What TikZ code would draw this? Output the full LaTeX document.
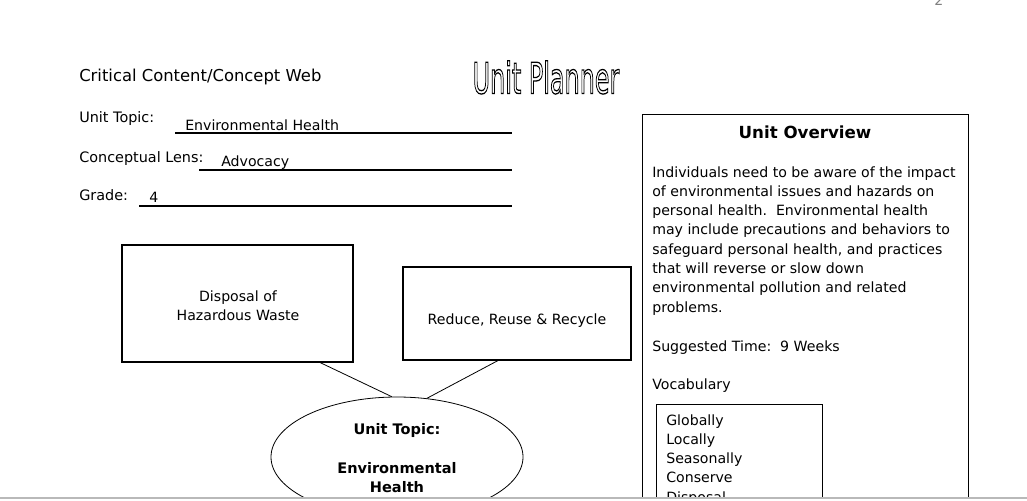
\documentclass[tikz,border=0pt]{standalone}
\usepackage{fontspec}
\setmainfont{DejaVu Sans}
\usetikzlibrary{shapes.geometric}
\begin{document}
\begin{tikzpicture}[x=0.75pt,y=-0.75pt,
  txt/.style={inner sep=0pt,font=\fontsize{10.6}{14.5}\selectfont},
  lbl/.style={inner sep=0pt,font=\fontsize{10.8}{14.5}\selectfont},
  bigtxt/.style={inner sep=0pt,font=\fontsize{12.3}{14.5}\selectfont},
  boldtxt/.style={inner sep=0pt,font=\fontsize{10.9}{14.5}\selectfont\bfseries},
  headbold/.style={inner sep=0pt,font=\fontsize{12.5}{14.5}\selectfont\bfseries},
  box/.style={draw,line width=0.8pt,rectangle,inner sep=0pt},
  fieldline/.style={line width=0.8pt},
  link/.style={line width=0.6pt}]
\useasboundingbox (0,0) rectangle (1027,500);
\begin{scope}
\clip (0,0) rectangle (1027,497);
% page number
\node[txt,anchor=base west,text=gray] (pg) at (934,5) {2};
% header
\node[bigtxt,anchor=base west] (cw) at (79,81) {Critical Content/Concept Web};
\node[anchor=base,inner sep=0pt] (up) at (546,93.5)
  {\resizebox{110pt}{24.5pt}{\special{pdf:literal direct 1 Tr 0.3 w}Unit Planner\special{pdf:literal direct 0 Tr}}};
% fields
\node[lbl,anchor=base west] (ut) at (79,122) {Unit Topic:};
\node[txt,anchor=base west] (utv) at (185,130) {Environmental Health};
\coordinate (ut1) at (175,133); \coordinate (ut2) at (512,133);
\draw[fieldline] (ut1) -- (ut2);
\node[lbl,anchor=base west] (cl) at (79,162) {Conceptual Lens:};
\node[txt,anchor=base west] (clv) at (221,166) {Advocacy};
\coordinate (cl1) at (199,170); \coordinate (cl2) at (512,170);
\draw[fieldline] (cl1) -- (cl2);
\node[lbl,anchor=base west] (gr) at (79,200) {Grade:};
\node[txt,anchor=base west] (grv) at (149,202) {4};
\coordinate (gr1) at (139,206); \coordinate (gr2) at (512,206);
\draw[fieldline] (gr1) -- (gr2);
% concept web
\node[box,minimum width=173.25pt,minimum height=87.75pt] (b1) at (237.5,303.5) {};
\node[txt,anchor=base] (b1t1) at (238,301) {Disposal of};
\node[txt,anchor=base] (b1t2) at (238,320) {Hazardous Waste};
\node[box,minimum width=171pt,minimum height=69.75pt] (b2) at (517,313.5) {};
\node[txt,anchor=base] (b2t) at (517,324) {Reduce, Reuse \& Recycle};
\node[draw,ellipse,line width=0.6pt,minimum width=189pt,minimum height=90pt,inner sep=0pt] (ell) at (397,457) {};
\node[boldtxt,anchor=base] (e1) at (397,434) {Unit Topic:};
\node[boldtxt,anchor=base] (e2) at (397,473) {Environmental};
\node[boldtxt,anchor=base] (e3) at (397,492) {Health};
\draw[link] ([xshift=61.9pt]b1.south) -- (ell.95);
\draw[link] ([xshift=-14.25pt]b2.south) -- (ell.63);
% overview
\node[box,anchor=north west,minimum width=244.5pt,minimum height=400pt] (ov) at (642,114) {};
\node[headbold,anchor=base] (ovt) at (805,138) {Unit Overview};
\foreach \t [count=\i from 0] in {
   Individuals need to be aware of the impact,
   of environmental issues and hazards on,
   {personal health.\ \ Environmental health},
   may include precautions and behaviors to,
   {safeguard personal health, and practices},
   that will reverse or slow down,
   environmental pollution and related,
   problems.}
  \node[txt,anchor=base west] (ovp\i) at (652,177+19.3*\i) {\t};
\node[txt,anchor=base west] (st) at (652,351) {Suggested Time:\ \ 9 Weeks};
\node[txt,anchor=base west] (voc) at (652,389) {Vocabulary};
\node[box,anchor=north west,minimum width=124.5pt,minimum height=200pt] (vb) at (656,404) {};
\foreach \t [count=\i from 0] in {Globally,Locally,Seasonally,Conserve,Disposal}
  \node[txt,anchor=base west] (vl\i) at (666,425+19.3*\i) {\t};
\end{scope}
\coordinate (pb1) at (0,497.8); \coordinate (pb2) at (1027,497.8);
\draw[gray!55,line width=1.2pt] (pb1) -- (pb2);
\end{tikzpicture}
\end{document}
